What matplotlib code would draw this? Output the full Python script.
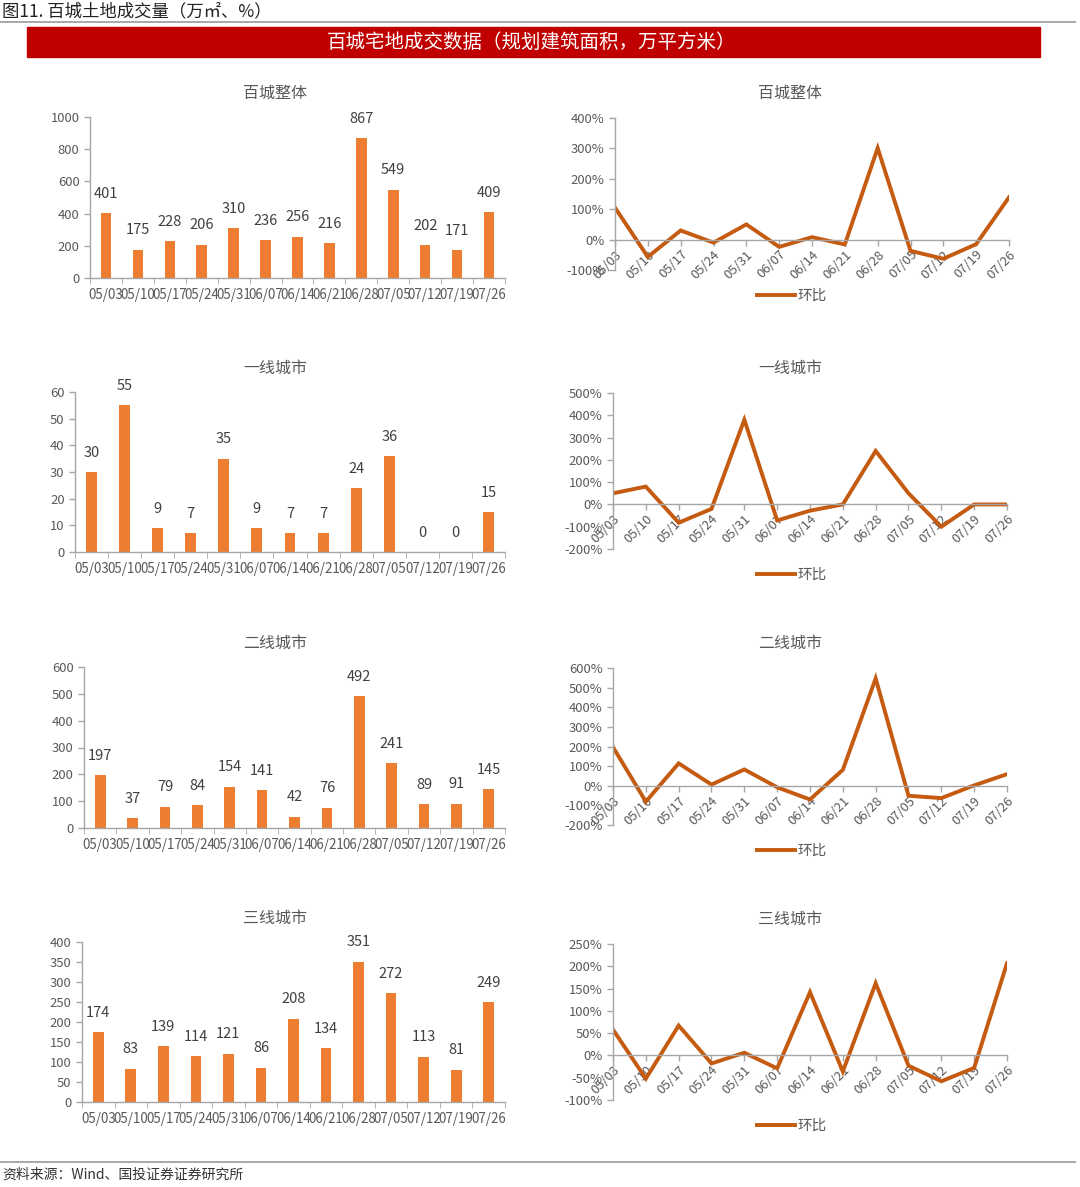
import matplotlib
matplotlib.use("Agg")
import matplotlib.pyplot as plt
from matplotlib.ticker import FuncFormatter, MultipleLocator

plt.rcParams['font.family'] = ['Noto Sans CJK SC', 'DejaVu Sans']

W, H = 1080, 1187

# data
weeks = ['05/03', '05/10', '05/17', '05/24', '05/31', '06/07', '06/14',
         '06/21', '06/28', '07/05', '07/12', '07/19', '07/26']
panel_titles = ['百城整体', '一线城市', '二线城市', '三线城市']

vol_total = [401, 175, 228, 206, 310, 236, 256, 216, 867, 549, 202, 171, 409]
vol_tier1 = [30, 55, 9, 7, 35, 9, 7, 7, 24, 36, 0, 0, 15]
vol_tier2 = [197, 37, 79, 84, 154, 141, 42, 76, 492, 241, 89, 91, 145]
vol_tier3 = [174, 83, 139, 114, 121, 86, 208, 134, 351, 272, 113, 81, 249]

# week-on-week change, %
mom_total = [105, -57, 30, -10, 50, -24, 8, -16, 301, -37, -63, -15, 139]
mom_tier1 = [50, 80, -82, -20, 380, -72, -28, 0, 240, 50, -100, 0, 0]
mom_tier2 = [197, -81, 114, 6, 83, -8, -70, 81, 547, -51, -63, 2, 59]
mom_tier3 = [58, -52, 67, -18, 6, -29, 142, -36, 162, -23, -58, -28, 207]

vols = [vol_total, vol_tier1, vol_tier2, vol_tier3]
moms = [mom_total, mom_tier1, mom_tier2, mom_tier3]

bar_ylims = [(0, 1000, 200), (0, 60, 10), (0, 600, 100), (0, 400, 50)]
line_ylims = [(-100, 400, 100), (-200, 500, 100), (-200, 600, 100), (-100, 250, 50)]

# pixel boxes (left, top, right, bottom)
bar_boxes = [(90, 117, 505, 278), (75, 392, 505, 552),
             (84, 667, 505, 828), (82, 942, 505, 1102)]
line_boxes = [(615, 118, 1009, 270), (613, 393, 1007, 549),
              (613, 668, 1007, 825), (613, 944, 1007, 1100)]

BAR_COLOR = '#ED7D31'
LINE_COLOR = '#C55A11'
AXIS_COLOR = '#A6A6A6'
TEXT_COLOR = '#595959'


def rect(box):
    x0, y0, x1, y1 = box
    return [x0 / W, 1 - y1 / H, (x1 - x0) / W, (y1 - y0) / H]


def style_axes(ax):
    for s in ['top', 'right']:
        ax.spines[s].set_visible(False)
    for s in ['left', 'bottom']:
        ax.spines[s].set_color(AXIS_COLOR)
        ax.spines[s].set_linewidth(1.0)
    ax.tick_params(colors=AXIS_COLOR, labelcolor=TEXT_COLOR, length=4, width=1.0)


fig = plt.figure(figsize=(W / 100, H / 100), dpi=100)

# header
fig.text(2 / W, 1 - 11 / H, '图11. 百城土地成交量（万㎡、%）', fontsize=12.5,
         fontweight='medium', color='#222222', va='center', ha='left')
fig.add_artist(plt.Line2D([0, 1075 / W], [1 - 22 / H, 1 - 22 / H],
                          color='#999999', lw=1.2))
fig.patches.append(plt.Rectangle((27 / W, 1 - 57 / H), (1040 - 27) / W, 30 / H,
                                 transform=fig.transFigure, color='#C00000'))
fig.text(532 / W, 1 - 42 / H, '百城宅地成交数据（规划建筑面积，万平方米）', fontsize=14,
         fontweight='medium', color='white', va='center', ha='center')

x = list(range(len(weeks)))

for i in range(4):
    # bar chart
    ax = fig.add_axes(rect(bar_boxes[i]))
    style_axes(ax)
    ax.bar(x, vols[i], width=0.33, color=BAR_COLOR)
    lo, hi, step = bar_ylims[i]
    ax.set_ylim(lo, hi)
    ax.yaxis.set_major_locator(MultipleLocator(step))
    ax.set_xlim(-0.5, len(weeks) - 0.5)
    ax.set_xticks(x)
    ax.set_xticklabels(weeks, fontsize=9.6)
    ax.set_xticks([k - 0.5 for k in range(len(weeks) + 1)], minor=True)
    ax.tick_params(axis='x', which='major', length=0, pad=7)
    ax.tick_params(axis='x', which='minor', length=4, color=AXIS_COLOR)
    ax.tick_params(axis='y', labelsize=9.4)
    for xi, v in zip(x, vols[i]):
        ax.annotate(f'{v}', (xi, v), xytext=(0, 14), textcoords='offset points',
                    ha='center', va='center', fontsize=10.5, color='#404040')
    bx0, by0, bx1, by1 = bar_boxes[i]
    fig.text(275 / W, 1 - (by0 - 24) / H, panel_titles[i], fontsize=11.5,
             color=TEXT_COLOR, ha='center', va='center')

    # line chart
    ax2 = fig.add_axes(rect(line_boxes[i]))
    style_axes(ax2)
    ax2.plot(x, moms[i], color=LINE_COLOR, lw=2.8, label='环比',
             solid_joinstyle='miter')
    lo, hi, step = line_ylims[i]
    ax2.set_ylim(lo, hi)
    ax2.yaxis.set_major_locator(MultipleLocator(step))
    ax2.yaxis.set_major_formatter(FuncFormatter(lambda v, p: f'{v:.0f}%'))
    ax2.set_xlim(0, len(weeks) - 1)
    ax2.spines['bottom'].set_position(('data', 0))
    ax2.set_xticks(x)
    ax2.set_xticklabels(weeks, fontsize=9.4, rotation=45, ha='right',
                        va='top', rotation_mode='anchor')
    ax2.tick_params(axis='x', length=4, pad=2)
    ax2.tick_params(axis='y', labelsize=9.4)
    lx0, ly0, lx1, ly1 = line_boxes[i]
    fig.text(790 / W, 1 - (ly0 - 25) / H, panel_titles[i], fontsize=11.5,
             color=TEXT_COLOR, ha='center', va='center')
    ax2.legend(loc='center', bbox_to_anchor=(792 / W, 1 - (ly1 + 26) / H),
               bbox_transform=fig.transFigure, frameon=False, fontsize=10.5,
               handlelength=2.6, handletextpad=0.2, labelcolor=TEXT_COLOR)

# footer
fig.add_artist(plt.Line2D([0, 1075 / W], [1 - 1162 / H, 1 - 1162 / H],
                          color='#999999', lw=1.2))
fig.text(2 / W, 1 - 1175 / H, '资料来源：Wind、国投证券证券研究所', fontsize=10,
         color='#333333', va='center', ha='left')

fig.savefig('out.png', dpi=100)
